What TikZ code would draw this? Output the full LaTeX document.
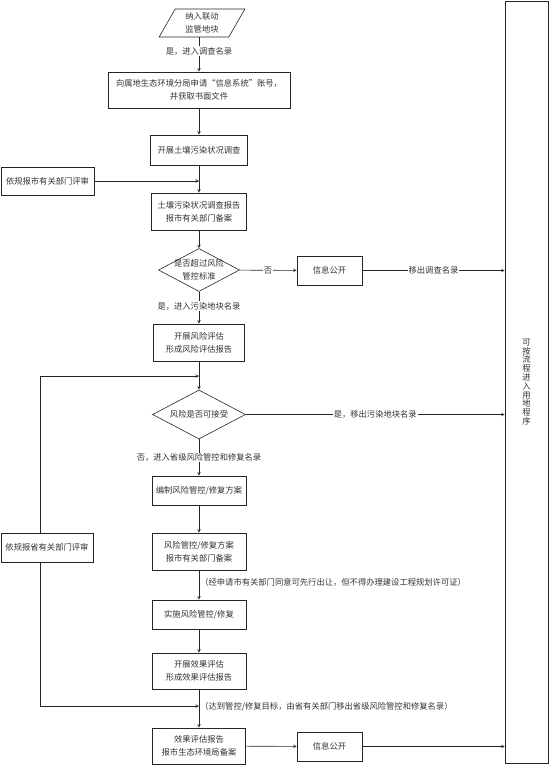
\documentclass[tikz,border=0pt]{standalone}
\usepackage{fontspec}
\setmainfont{Noto Sans CJK SC}
\usetikzlibrary{shapes.geometric,arrows,calc}

\tikzset{
	box/.style={draw, rectangle, align=center, inner sep=1pt, fill=white},
	decide/.style={draw, diamond, aspect=1.9, align=center, inner sep=-2pt, fill=white},
	lbl/.style={fill=white, inner sep=1pt},
}

\begin{document}
\begin{tikzpicture}[x=1pt,y=-1pt,>=stealth,line width=0.6pt,draw=black!85,
	every node/.style={font=\fontsize{8.3}{13}\selectfont,text=black!80}]
	\useasboundingbox (0,0) rectangle (549,765);
	% main column
	\node[draw, trapezium, trapezium left angle=65, trapezium right angle=115,
		trapezium stretches=true, minimum width=86, minimum height=28,
		align=center, inner sep=1pt] (start) at (202,23) {纳入联动\\监管地块};
	\node[box, minimum width=182, minimum height=36] (apply) at (199,90) {向属地生态环境分局申请“信息系统”账号，\\并获取书面文件};
	\node[box, minimum width=97, minimum height=30] (survey) at (199,150) {开展土壤污染状况调查};
	\node[box, minimum width=95, minimum height=37] (report) at (199,211.5) {土壤污染状况调查报告\\报市有关部门备案};
	\node[decide, minimum width=81, minimum height=43] (exceed) at (199,270) {是否超过风险\\管控标准};
	\node[box, minimum width=91, minimum height=37] (riskeval) at (199,342.5) {开展风险评估\\形成风险评估报告};
	\node[decide, minimum width=93, minimum height=49] (accept) at (199,414.5) {风险是否可接受};
	\node[box, minimum width=94, minimum height=29] (plan) at (199,490.5) {编制风险管控/修复方案};
	\node[box, minimum width=94, minimum height=37] (filing) at (199,551.5) {风险管控/修复方案\\报市有关部门备案};
	\node[box, minimum width=94, minimum height=29] (implement) at (199,614.5) {实施风险管控/修复};
	\node[box, minimum width=94, minimum height=36] (effect) at (199,671) {开展效果评估\\形成效果评估报告};
	\node[box, minimum width=93, minimum height=36] (final) at (199,746) {效果评估报告\\报市生态环境局备案};
	% side boxes
	\node[box, minimum width=93, minimum height=28] (rev1) at (47.5,181) {依规报市有关部门评审};
	\node[box, minimum width=92, minimum height=29] (rev2) at (47,547.5) {依规报省有关部门评审};
	\node[box, minimum width=65, minimum height=29] (pub1) at (329.5,270.5) {信息公开};
	\node[box, minimum width=65, minimum height=29] (pub2) at (329.5,746.5) {信息公开};
	\node[box, minimum width=43, minimum height=762,
		font=\fontsize{8.3}{8.8}\selectfont] (entry) at (526.5,382) {可\\按\\流\\程\\进\\入\\用\\地\\程\\序};
	\coordinate (loopin) at (199,376);
	\coordinate (backin) at (199,706);
	% connectors
	\draw[->] (apply.north |- start.south) -- node[lbl,pos=0.4] {是，进入调查名录} (apply);
	\draw[->] (apply) -- (survey);
	\draw[->] (survey) -- (report);
	\draw[->] (rev1) -- (rev1 -| survey);
	\draw[->] (report) -- (exceed);
	\draw[->] (exceed) -- node[lbl] {否} (pub1);
	\draw[->] (pub1) -- node[lbl] {移出调查名录} (pub1 -| entry.west);
	\draw[->] (exceed) -- node[lbl,pos=0.45] {是，进入污染地块名录} (riskeval);
	\draw[->] (riskeval) -- (accept);
	\draw[->] (accept) -- node[lbl] {是，移出污染地块名录} (accept -| entry.west);
	\draw[->] (accept) -- node[lbl] {否，进入省级风险管控和修复名录} (plan);
	\draw[->] (plan) -- (filing);
	\draw[->] (filing) -- node[anchor=west,pos=0.4,inner sep=1pt] {（经申请市有关部门同意可先行出让，但不得办理建设工程规划许可证）} (implement);
	\draw[->] (implement) -- (effect);
	\draw[->] (effect) -- node[anchor=west,pos=0.44,inner sep=1pt] {（达到管控/修复目标，由省有关部门移出省级风险管控和修复名录）} (final);
	\draw[->] (final) -- (pub2);
	\draw[->] (pub2) -- (pub2 -| entry.west);
	\draw[->] ([xshift=-7pt]rev2.north) |- (loopin);
	\draw[->] ([xshift=-7pt]rev2.south) |- (backin);
\end{tikzpicture}
\end{document}
